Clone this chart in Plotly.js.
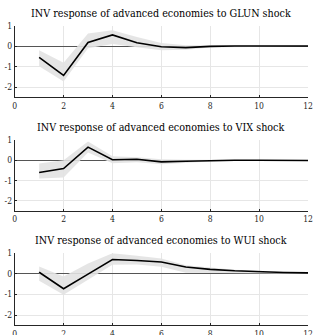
<!DOCTYPE html>
<html>
<head>
<meta charset="utf-8">
<script src="https://cdn.plot.ly/plotly-3.0.1.min.js"></script>
<style>html,body{margin:0;padding:0;background:#fff;}#chart{width:313px;height:335px;}</style>
</head>
<body>
<div id="chart"></div>
<script>
var horizons = [1,2,3,4,5,6,7,8,9,10,11,12];

var titles = [
  "INV response of advanced economies to GLUN shock",
  "INV response of advanced economies to VIX shock",
  "INV response of advanced economies to WUI shock"
];

var glunMean  = [-0.55,-1.43, 0.18, 0.55, 0.17,-0.03,-0.07,-0.01, 0.01, 0.02, 0.01, 0.01];
var glunUpper = [-0.20,-0.81, 0.62, 0.78, 0.45, 0.15, 0.05, 0.05, 0.04, 0.05, 0.04, 0.03];
var glunLower = [-0.98,-1.73,-0.10, 0.10,-0.05,-0.20,-0.17,-0.06,-0.02,-0.01,-0.02,-0.01];

var vixMean  = [-0.60,-0.41, 0.65, 0.03, 0.05,-0.08,-0.05,-0.01, 0.00, 0.00,-0.01,-0.01];
var vixUpper = [-0.16, 0.00, 0.93, 0.20, 0.15, 0.05, 0.03, 0.04, 0.03, 0.02, 0.01, 0.01];
var vixLower = [-0.90,-0.85, 0.38,-0.15,-0.10,-0.20,-0.13,-0.06,-0.03,-0.02,-0.03,-0.03];

var wuiMean  = [ 0.08,-0.72,-0.01, 0.70, 0.65, 0.58, 0.33, 0.22, 0.15, 0.10, 0.07, 0.05];
var wuiUpper = [ 0.36,-0.13, 0.50, 1.00, 0.88, 0.75, 0.42, 0.30, 0.20, 0.14, 0.10, 0.08];
var wuiLower = [-0.34,-1.02,-0.30, 0.44, 0.45, 0.35, 0.06, 0.05, 0.03, 0.02, 0.01, 0.00];

var xTicks = [0,2,4,6,8,10,12];
var yTicks = [-2,-1,0,1];

var series = [
  {mean: glunMean, upper: glunUpper, lower: glunLower},
  {mean: vixMean,  upper: vixUpper,  lower: vixLower},
  {mean: wuiMean,  upper: wuiUpper,  lower: wuiLower}
];

var FONT = "DejaVu Serif Condensed";
var W = 313, H = 335;
var panels = [
  {top: 25.7, bottom: 97.3, titleY: 14},
  {top: 140,  bottom: 211,  titleY: 128},
  {top: 253.3,bottom: 325.3,titleY: 240}
];
var xLeft = 14.7, xRight = 308;

var traces = [];
var layout = {
  width: W, height: H,
  margin: {l:0, r:0, t:0, b:0},
  paper_bgcolor: '#fff', plot_bgcolor: '#fff',
  showlegend: false,
  font: {family: FONT, color: '#262626'},
  annotations: []
};

series.forEach(function(s, i) {
  var k = i === 0 ? '' : String(i+1);
  var xa = 'x' + k, ya = 'y' + k;
  var bandX = horizons.concat(horizons.slice().reverse());
  var bandY = s.upper.concat(s.lower.slice().reverse());
  traces.push({
    x: bandX, y: bandY, xaxis: xa, yaxis: ya,
    type: 'scatter', mode: 'lines', fill: 'toself',
    fillcolor: 'rgba(226,226,226,0.9)', line: {width: 0, color: 'rgba(0,0,0,0)'},
    hoverinfo: 'skip'
  });
  traces.push({
    x: horizons, y: s.mean, xaxis: xa, yaxis: ya,
    type: 'scatter', mode: 'lines', line: {color: '#000', width: 1.6}
  });
  var p = panels[i];
  layout['xaxis' + k] = {
    domain: [xLeft / W, xRight / W], anchor: ya,
    range: [0, 12], tickvals: xTicks, ticktext: xTicks.map(String),
    showgrid: true, gridcolor: '#e6e6e6', gridwidth: 1,
    zeroline: false, showline: true, linecolor: '#262626', linewidth: 1,
    ticks: 'inside', ticklen: 2, tickcolor: '#262626',
    tickfont: {size: 8.5, family: FONT, color: '#262626'},
    fixedrange: true
  };
  layout['yaxis' + k] = {
    domain: [1 - p.bottom / H, 1 - p.top / H], anchor: xa,
    range: [-2.5, 1], tickvals: yTicks, ticktext: yTicks.map(String),
    showgrid: true, gridcolor: '#e6e6e6', gridwidth: 1,
    zeroline: true, zerolinecolor: '#555', zerolinewidth: 1,
    showline: true, linecolor: '#262626', linewidth: 1,
    ticks: 'inside', ticklen: 2, tickcolor: '#262626',
    tickfont: {size: 8.5, family: FONT, color: '#262626'},
    fixedrange: true
  };
  layout.annotations.push({
    text: titles[i], xref: 'paper', yref: 'paper',
    x: (xLeft + xRight) / 2 / W, y: 1 - p.titleY / H,
    xanchor: 'center', yanchor: 'middle', showarrow: false,
    font: {size: 10.7, family: FONT, color: '#000'}
  });
});

Plotly.newPlot('chart', traces, layout, {displayModeBar: false, staticPlot: true});
</script>
</body>
</html>
